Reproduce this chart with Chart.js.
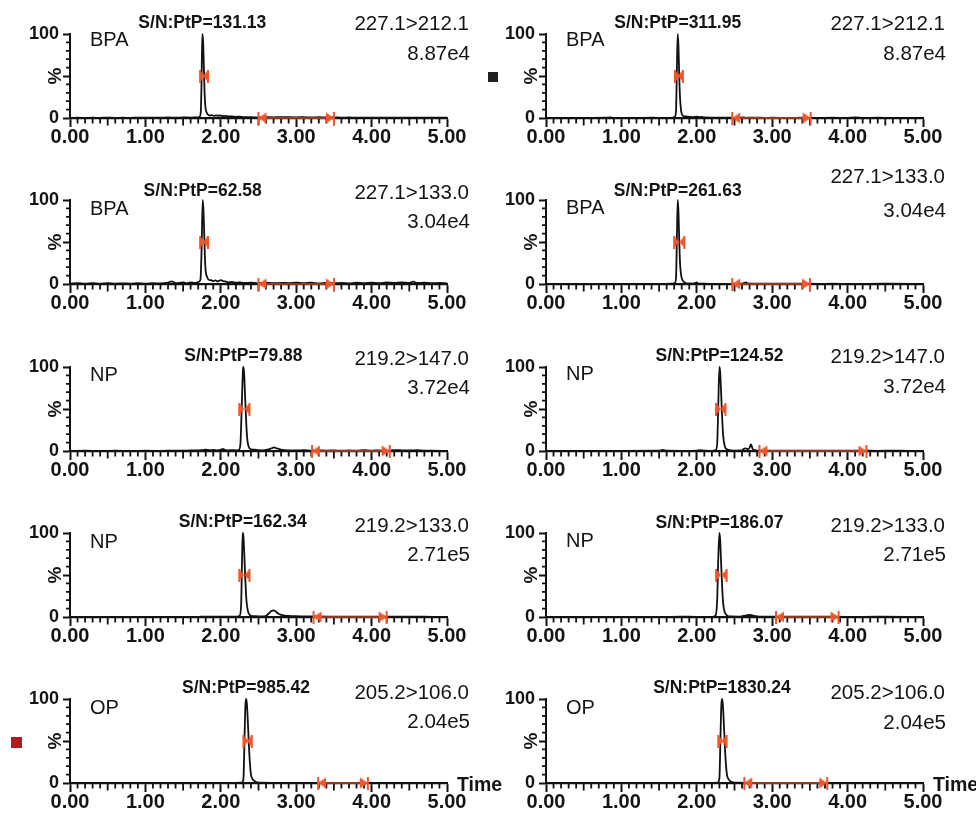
<!DOCTYPE html>
<html><head><meta charset="utf-8">
<script src="https://cdn.jsdelivr.net/npm/chart.js@4.4.1/dist/chart.umd.min.js"></script>
<style>
html,body{margin:0;padding:0;background:#fff;}
#wrap{position:relative;width:976px;height:813px;overflow:hidden;background:#fff;}
#wrap canvas{position:absolute;}
.sq{position:absolute;}
</style></head><body>
<div id="wrap"></div>
<script>
// ---------- data ----------
const compounds   = ['BPA','BPA','BPA','BPA','NP','NP','NP','NP','OP','OP'];
const snValues    = ['131.13','311.95','62.58','261.63','79.88','124.52','162.34','186.07','985.42','1830.24'];
const transitions = ['227.1>212.1','227.1>212.1','227.1>133.0','227.1>133.0','219.2>147.0','219.2>147.0','219.2>133.0','219.2>133.0','205.2>106.0','205.2>106.0'];
const intensities = ['8.87e4','8.87e4','3.04e4','3.04e4','3.72e4','3.72e4','2.71e5','2.71e5','2.04e5','2.04e5'];
const peakTimes   = [1.755,1.747,1.76,1.747,2.30,2.30,2.29,2.30,2.334,2.334];
const peakMarkL   = [1.725,1.71,1.725,1.70,2.245,2.255,2.245,2.255,2.30,2.285];
const peakMarkR   = [1.83,1.815,1.83,1.835,2.38,2.38,2.38,2.395,2.41,2.395];
const noiseL      = [2.50,2.47,2.50,2.47,3.21,2.83,3.23,3.05,3.29,2.63];
const noiseR      = [3.50,3.51,3.50,3.50,4.24,4.25,4.20,3.88,3.95,3.73];
const xTickLabels = ['0.00','1.00','2.00','3.00','4.00','5.00'];
const yTickValues = [0,50,100];
const yTickLabels = ['0','','100'];

const traceL1 = [[0,0.2],[0.1,0.3],[0.2,0.2],[0.3,0.3],[0.4,0.2],[0.5,0.4],[0.6,0.2],[0.7,0.3],[0.8,0.2],[0.9,0.4],[1.0,0.3],[1.1,0.5],[1.2,0.3],[1.3,0.6],[1.4,0.4],[1.5,0.7],[1.6,0.5],[1.68,0.8],[1.72,1.5],[1.735,8],[1.745,45],[1.755,100],[1.765,92],[1.775,62],[1.785,30],[1.795,14],[1.81,7],[1.83,4],[1.85,3],[1.88,3.5],[1.91,2.6],[1.94,3.2],[1.97,2.7],[2.0,3.0],[2.03,2.2],[2.06,2.5],[2.1,1.8],[2.15,1.9],[2.2,1.4],[2.25,1.6],[2.3,1.0],[2.4,0.9],[2.5,0.7],[2.6,1.0],[2.7,0.8],[2.8,1.1],[2.9,0.9],[3.0,0.8],[3.1,1.0],[3.2,0.7],[3.3,0.9],[3.4,0.6],[3.5,0.7],[3.6,0.5],[3.7,0.6],[3.8,0.4],[3.9,0.5],[4.0,0.4],[4.2,0.5],[4.4,0.3],[4.6,0.4],[4.8,0.3],[5.0,0.3]];
const traceR1 = [[0,0.1],[0.2,0.2],[0.4,0.1],[0.6,0.2],[0.8,0.3],[0.85,0.8],[0.9,0.2],[1.0,0.2],[1.2,0.1],[1.4,0.3],[1.6,0.2],[1.68,0.3],[1.71,1.5],[1.725,10],[1.735,55],[1.747,100],[1.757,85],[1.767,50],[1.777,25],[1.79,10],[1.8,5],[1.82,2.5],[1.85,1.8],[1.9,1.4],[1.95,1.0],[2.0,1.6],[2.03,0.9],[2.06,1.2],[2.1,0.6],[2.2,0.5],[2.3,0.3],[2.4,0.4],[2.5,0.2],[2.6,0.6],[2.7,0.3],[2.8,0.4],[2.9,0.2],[3.0,0.3],[3.2,0.2],[3.4,0.3],[3.6,0.2],[3.8,0.3],[4.0,0.2],[4.1,0.6],[4.2,0.2],[4.4,0.3],[4.6,0.2],[4.8,0.2],[5.0,0.1]];
const traceL2 = [[0,0.5],[0.1,1.0],[0.2,0.4],[0.3,0.9],[0.4,0.3],[0.5,1.1],[0.6,0.5],[0.7,0.8],[0.8,0.4],[0.9,1.0],[1.0,0.5],[1.1,0.9],[1.2,0.6],[1.3,1.6],[1.35,3.2],[1.4,1.0],[1.5,1.8],[1.55,0.8],[1.6,2.0],[1.65,1.2],[1.7,2.2],[1.73,5],[1.745,40],[1.76,100],[1.77,88],[1.78,60],[1.79,30],[1.8,15],[1.82,8],[1.84,5],[1.87,4.5],[1.9,3.5],[1.93,4.2],[1.96,3.0],[2.0,4.5],[2.03,3.5],[2.06,3.0],[2.1,2.0],[2.15,2.5],[2.2,1.5],[2.25,1.9],[2.3,1.2],[2.4,1.5],[2.5,1.0],[2.6,1.6],[2.7,0.9],[2.8,1.4],[2.9,1.0],[3.0,1.6],[3.1,1.1],[3.2,1.5],[3.3,0.8],[3.4,1.3],[3.5,0.9],[3.6,1.2],[3.7,0.8],[3.8,1.5],[3.9,1.0],[4.0,1.6],[4.1,1.0],[4.2,1.8],[4.3,1.2],[4.4,2.0],[4.5,1.3],[4.55,2.8],[4.6,1.2],[4.7,1.6],[4.8,1.0],[4.9,1.3],[5.0,0.8]];
const traceR2 = [[0,0.1],[0.5,0.2],[1.0,0.1],[1.5,0.2],[1.65,0.3],[1.71,1],[1.725,8],[1.735,50],[1.747,100],[1.757,86],[1.767,52],[1.777,26],[1.79,12],[1.8,7],[1.815,4],[1.83,2.5],[1.85,1.2],[1.9,0.6],[1.95,0.5],[2.0,1.8],[2.02,0.5],[2.1,0.3],[2.3,0.2],[2.5,0.3],[2.6,0.5],[2.65,1.8],[2.68,0.6],[2.8,0.3],[3.0,0.4],[3.2,0.3],[3.4,0.5],[3.6,0.2],[3.8,0.3],[4.0,0.2],[4.5,0.3],[5.0,0.2]];
const traceL3 = [[0,0.2],[0.2,0.3],[0.4,0.2],[0.6,0.3],[0.8,0.2],[1.0,0.3],[1.2,0.2],[1.4,0.5],[1.5,0.3],[1.6,0.8],[1.7,0.6],[1.8,1.6],[1.85,1.0],[1.9,1.3],[1.95,0.8],[2.0,1.5],[2.03,2.5],[2.06,1.0],[2.1,0.8],[2.15,1.0],[2.2,0.8],[2.24,1.5],[2.26,8],[2.28,60],[2.295,98],[2.3,100],[2.31,92],[2.32,70],[2.335,38],[2.35,15],[2.37,5],[2.4,2],[2.45,1.5],[2.5,1.0],[2.55,0.8],[2.6,1.2],[2.65,2.5],[2.68,3.5],[2.71,4.2],[2.74,3.0],[2.77,2.6],[2.8,1.5],[2.85,1.0],[2.9,0.8],[3.0,0.6],[3.1,0.9],[3.2,0.5],[3.3,0.8],[3.4,0.5],[3.5,0.7],[3.6,0.4],[3.7,0.6],[3.8,0.4],[3.9,0.9],[4.0,0.5],[4.1,0.7],[4.2,0.4],[4.3,1.0],[4.4,0.8],[4.5,0.6],[4.6,0.9],[4.7,0.4],[4.8,0.3],[5.0,0.2]];
const traceR3 = [[0,0.1],[0.5,0.2],[1.0,0.2],[1.5,0.4],[1.55,1.2],[1.6,0.3],[1.8,0.2],[2.0,0.4],[2.04,1.0],[2.1,0.3],[2.2,0.2],[2.25,1.0],[2.27,8],[2.285,55],[2.3,100],[2.31,94],[2.32,75],[2.335,42],[2.35,18],[2.37,6],[2.4,2],[2.45,0.8],[2.5,0.5],[2.6,0.6],[2.62,2.5],[2.65,3.2],[2.68,2.0],[2.7,4],[2.72,8],[2.74,2.5],[2.77,1.0],[2.8,0.5],[2.9,0.3],[3.0,0.4],[3.2,0.3],[3.4,0.4],[3.6,0.3],[3.8,0.4],[4.0,0.3],[4.2,0.4],[4.4,0.2],[4.6,0.5],[4.8,0.2],[5.0,0.1]];
const traceL4 = [[0,0.1],[0.5,0.1],[1.0,0.1],[1.5,0.1],[1.7,0.2],[1.8,0.4],[2.0,0.3],[2.2,0.3],[2.25,1.5],[2.27,15],[2.28,60],[2.29,100],[2.3,96],[2.31,78],[2.325,45],[2.34,20],[2.36,7],[2.38,3],[2.4,1.5],[2.45,1.0],[2.5,0.8],[2.55,0.8],[2.6,1.5],[2.64,4.5],[2.67,7],[2.7,8],[2.73,6.5],[2.76,4.2],[2.8,2.5],[2.85,1.6],[2.9,1.2],[3.0,0.9],[3.1,0.8],[3.2,0.7],[3.3,0.6],[3.5,0.5],[3.7,0.4],[4.0,0.5],[4.3,0.3],[4.6,0.4],[4.8,0.2],[5.0,0.2]];
const traceR4 = [[0,0.1],[0.5,0.1],[1.0,0.1],[1.5,0.1],[1.8,0.4],[2.0,0.2],[2.2,0.2],[2.25,2],[2.27,20],[2.285,70],[2.3,100],[2.31,92],[2.32,70],[2.335,38],[2.35,16],[2.37,6],[2.4,2],[2.45,0.6],[2.55,0.4],[2.62,1.2],[2.67,2.2],[2.71,2.4],[2.75,1.6],[2.8,0.8],[2.9,0.4],[3.0,0.3],[3.3,0.3],[3.6,0.4],[4.0,0.2],[4.4,0.3],[4.8,0.2],[5.0,0.1]];
const traceL5 = [[0,0.1],[0.5,0.1],[1.0,0.1],[1.5,0.1],[2.0,0.1],[2.2,0.2],[2.28,0.5],[2.3,5],[2.315,55],[2.325,90],[2.335,100],[2.345,95],[2.355,80],[2.37,50],[2.385,25],[2.4,10],[2.42,5],[2.45,2],[2.48,0.8],[2.55,0.3],[2.7,0.2],[3.0,0.1],[3.5,0.1],[4.0,0.1],[4.5,0.1],[5.0,0.1]];
const traceR5 = [[0,0.1],[0.5,0.1],[1.0,0.1],[1.5,0.1],[2.0,0.1],[2.2,0.2],[2.28,0.5],[2.3,6],[2.315,58],[2.325,92],[2.335,100],[2.345,94],[2.355,78],[2.37,48],[2.385,24],[2.4,10],[2.42,4.5],[2.45,1.8],[2.48,0.7],[2.55,0.3],[2.7,0.2],[3.0,0.1],[3.5,0.1],[4.0,0.1],[4.5,0.1],[5.0,0.1]];
const traces = [traceL1,traceR1,traceL2,traceR2,traceL3,traceR3,traceL4,traceR4,traceL5,traceR5];

// ---------- layout (positions / styles) ----------
const FONT = "'Liberation Sans', Arial, Helvetica, sans-serif";
const TXT = '#141414';
const rowTops = [0,166,333,499,665];
const nameDy  = [5,5,7.5,6.5,7,5.5,8,7,7.5,7.5];
const snDy    = [-12,-12.5,-10,-10,-12,-12,-12.5,-11.5,-12.5,-12.5];
const transDy = [-11,-11.5,-8,-24,-9.5,-11.5,-8.5,-8.5,-7.5,-7.5];
const intDy   = [18.5,18.5,21,9.5,19.5,18.5,20.5,21,21.5,22.5];
const ORANGE = '#f0562a';
const CANVAS_W = 512;

function makeImg(w,h,fn){const c=document.createElement('canvas');c.width=w;c.height=h;const g=c.getContext('2d');g.fillStyle=ORANGE;fn(g);return c;}
const noiseLeftImg = makeImg(20,13,g=>{g.fillRect(9,0,2,13);g.beginPath();g.moveTo(10,6.5);g.lineTo(18,1);g.lineTo(18,12);g.closePath();g.fill();});
const noiseRightImg= makeImg(20,13,g=>{g.fillRect(9,0,2,13);g.beginPath();g.moveTo(10,6.5);g.lineTo(2,1);g.lineTo(2,12);g.closePath();g.fill();});
const peakLeftImg  = makeImg(12,13,g=>{g.fillRect(5,0,2,13);g.beginPath();g.moveTo(6,0.5);g.lineTo(11,6.5);g.lineTo(6,12.5);g.closePath();g.fill();});
const peakRightImg = makeImg(12,13,g=>{g.fillRect(5,0,2,13);g.beginPath();g.moveTo(6,0.5);g.lineTo(1,6.5);g.lineTo(6,12.5);g.closePath();g.fill();});

const minorTicks = {
  id:'minorTicks',
  beforeDatasetsDraw(chart){
    const ctx=chart.ctx, xs=chart.scales.x, ys=chart.scales.y, a=chart.chartArea;
    ctx.save(); ctx.strokeStyle='#111'; ctx.lineWidth=1.8; ctx.beginPath();
    for(let k=1;k<50;k++){
      if(k%10===0) continue;
      const px=xs.getPixelForValue(k/10);
      const len=(k%5===0)?7.5:5.5;
      ctx.moveTo(px,a.bottom); ctx.lineTo(px,a.bottom+len);
    }
    for(let k=1;k<10;k++){
      if(k===5) continue;
      const py=ys.getPixelForValue(k*10);
      ctx.moveTo(a.left,py); ctx.lineTo(a.left-4,py);
    }
    ctx.stroke(); ctx.restore();
  }
};

const annot = {
  id:'annot',
  afterDraw(chart,args,opts){
    const i=opts.idx, row=Math.floor(i/2);
    const ctx=chart.ctx, a=chart.chartArea, xs=chart.scales.x;
    ctx.save(); ctx.fillStyle=TXT;
    const put=(txt,x,cy,size,weight,align)=>{
      ctx.font=weight+' '+size+'px '+FONT; ctx.textAlign=align; ctx.textBaseline='alphabetic';
      ctx.fillText(txt,x,cy+size*0.358);
    };
    put(compounds[i], a.left+20, a.top+nameDy[i], 20, 'normal', 'left');
    put('S/N:PtP='+snValues[i], xs.getPixelForValue(peakTimes[i]), a.top+snDy[i], 17.5, 'bold', 'center');
    put(transitions[i], a.right+22, a.top+transDy[i], 20.5, 'normal', 'right');
    put(intensities[i], a.right+23, a.top+intDy[i], 20.5, 'normal', 'right');
    ctx.save(); ctx.translate(a.left-16,(a.top+a.bottom)/2); ctx.rotate(-Math.PI/2);
    put('%',0,0,19,'bold','center'); ctx.restore();
    if(row===4) put('Time', a.right+10, a.bottom+1.5, 19.5, 'bold', 'left');
    ctx.restore();
  }
};

const wrap=document.getElementById('wrap');
for(let i=0;i<10;i++){
  const col=i%2, row=Math.floor(i/2);
  const cv=document.createElement('canvas');
  cv.width=CANVAS_W; cv.height=166;
  cv.style.left=(col*476)+'px'; cv.style.top=rowTops[row]+'px';
  cv.style.width=CANVAS_W+'px'; cv.style.height='166px';
  wrap.appendChild(cv);
  new Chart(cv,{
    type:'line',
    data:{datasets:[
      {data:[{x:peakMarkL[i],y:50},{x:peakMarkR[i],y:50}],showLine:false,pointStyle:[peakLeftImg,peakRightImg],pointRadius:5,clip:false},
      {data:[{x:noiseL[i],y:0},{x:noiseR[i],y:0}],borderColor:'#b8482a',borderWidth:1.5,pointStyle:[noiseLeftImg,noiseRightImg],pointRadius:5,clip:false},
      {data:traces[i].map(p=>({x:p[0],y:p[1]})),borderColor:'#111',borderWidth:1.8,pointRadius:0,cubicInterpolationMode:'monotone',clip:4}
    ]},
    options:{
      responsive:false, animation:false, devicePixelRatio:1,
      layout:{padding:{top:34,left:0,right:CANVAS_W-447,bottom:18}},
      plugins:{legend:{display:false},tooltip:{enabled:false},annot:{idx:i}},
      scales:{
        x:{type:'linear',min:0,max:5,
          border:{display:true,color:'#111',width:2.2},
          grid:{display:true,drawOnChartArea:false,drawTicks:true,tickLength:9,tickWidth:2,tickColor:'#111'},
          ticks:{stepSize:1,autoSkip:false,maxRotation:0,padding:-2,color:TXT,
            font:{family:FONT,size:20,weight:'bold'},callback:v=>xTickLabels[Math.round(v)]},
          afterFit:s=>{s.height=30;}
        },
        y:{type:'linear',min:0,max:100,
          border:{display:true,color:'#111',width:2},
          grid:{display:true,drawOnChartArea:false,drawTicks:true,tickLength:7,tickWidth:2,tickColor:'#111'},
          afterBuildTicks:s=>{s.ticks=yTickValues.map(v=>({value:v}));},
          ticks:{padding:4,color:TXT,font:{family:FONT,size:18,weight:'bold'},
            callback:v=>yTickLabels[yTickValues.indexOf(v)]},
          afterFit:s=>{s.width=70;}
        }
      }
    },
    plugins:[minorTicks,annot]
  });
}
const sq1=document.createElement('div');sq1.className='sq';
sq1.style.cssText='left:488px;top:72px;width:10px;height:10px;background:#231f20;';
wrap.appendChild(sq1);
const sq2=document.createElement('div');sq2.className='sq';
sq2.style.cssText='left:11px;top:737px;width:11px;height:11px;background:#b5191f;';
wrap.appendChild(sq2);
</script>
</body></html>
